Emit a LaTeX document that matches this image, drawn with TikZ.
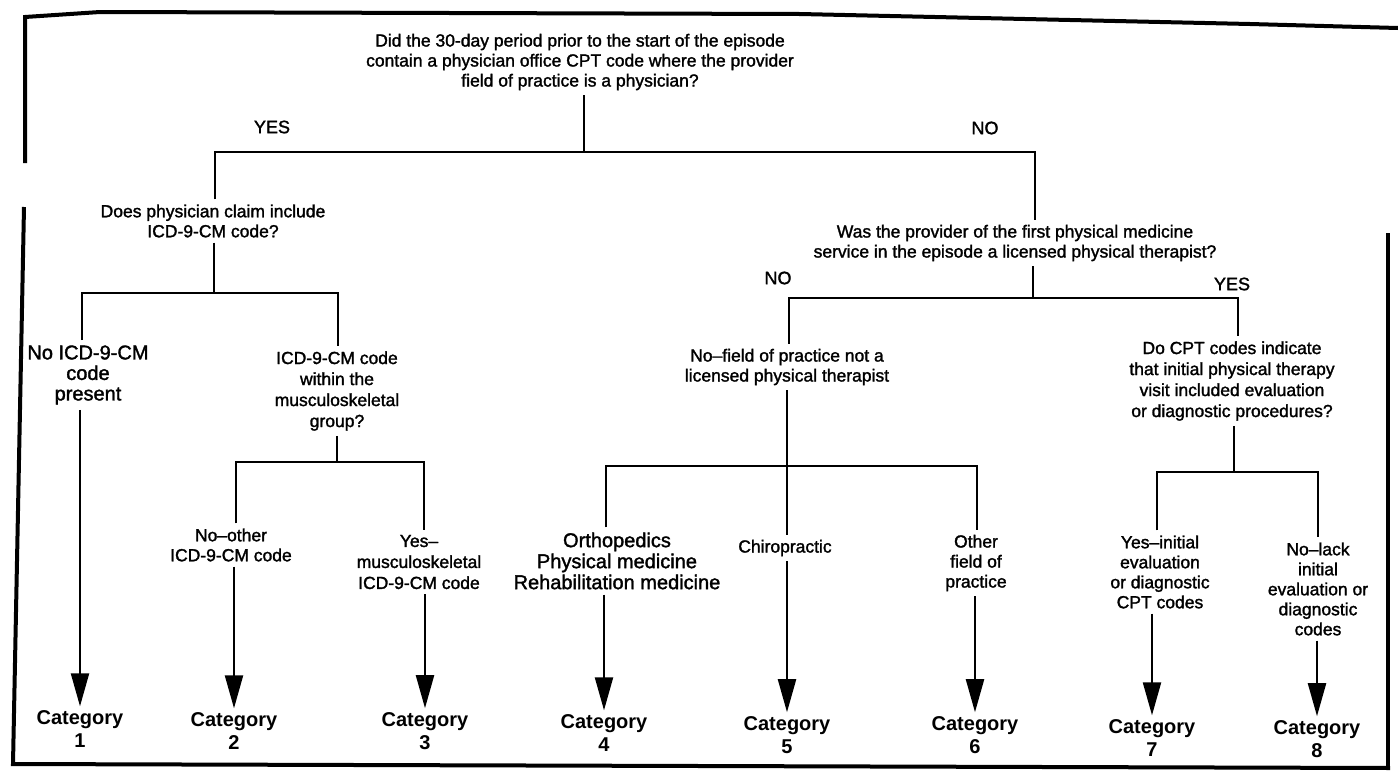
\documentclass[tikz,border=0pt]{standalone}
\usepackage{fontspec}
\setmainfont{Liberation Sans}
\newfontfamily\scanfont{Liberation Sans}[FakeBold=1.6]
\usetikzlibrary{arrows.meta}
\begin{document}
\begin{tikzpicture}[x=1pt,y=-1pt,
  txt/.style={align=center, font=\scanfont\fontsize{17.5}{20}\selectfont, inner sep=5pt},
  txtw/.style={align=center, font=\scanfont\fontsize{17.5}{21}\selectfont, inner sep=5pt},
  big/.style={align=center, font=\scanfont\fontsize{20}{20.5}\selectfont, inner sep=5pt},
  bigw/.style={align=center, font=\scanfont\fontsize{20}{21}\selectfont, inner sep=5pt},
  cat/.style={align=center, font=\bfseries\fontsize{20}{23}\selectfont, inner sep=4pt},
  lbl/.style={font=\scanfont\fontsize{18}{20}\selectfont},
  ln/.style={line width=2.2pt},
  arr/.style={line width=2.2pt, -{Triangle[length=33pt,width=18pt]}},
  frameline/.style={line width=4pt}]
\useasboundingbox (0,0) rectangle (1398,774);
% frame
\draw[frameline] (25,163) -- (25,17) -- (100,12) -- (800,14) -- (1250,24) -- (1398,28);
\draw[frameline] (24,207) -- (13,764) -- (1390,768);
\draw[frameline] (1388,233) -- (1388,768);
% nodes
\node[txt] (q1) at (580,62) {Did the 30-day period prior to the start of the episode\\contain a physician office CPT code where the provider\\field of practice is a physician?};
\node[lbl] (yes1) at (272,127) {YES};
\node[lbl] (no1) at (985,128) {NO};
\node[txt] (q2) at (213,221) {Does physician claim include\\ICD-9-CM code?};
\node[txt] (q3) at (1015,243) {Was the provider of the first physical medicine\\service in the episode a licensed physical therapist?};
\node[lbl] (no2) at (778,278) {NO};
\node[lbl] (yes2) at (1232,284) {YES};
\node[big] (l1) at (88,375) {No ICD-9-CM\\code\\present};
\node[txtw] (q4) at (337,391) {ICD-9-CM code\\within the\\musculoskeletal\\group?};
\node[txt] (l2) at (231,545) {No–other\\ICD-9-CM code};
\node[txtw] (l3) at (419,562) {Yes–\\musculoskeletal\\ICD-9-CM code};
\node[txt] (q5) at (787,367) {No–field of practice not a\\licensed physical therapist};
\node[txtw] (q6) at (1232,381) {Do CPT codes indicate\\that initial physical therapy\\visit included evaluation\\or diagnostic procedures?};
\node[bigw] (l4) at (617,561) {Orthopedics\\Physical medicine\\Rehabilitation medicine};
\node[txt] (l5) at (785,548) {Chiropractic};
\node[txt] (l6) at (976,563) {Other\\field of\\practice};
\node[txt] (l7) at (1160,572) {Yes–initial\\evaluation\\or diagnostic\\CPT codes};
\node[txt] (l8) at (1318,589) {No–lack\\initial\\evaluation or\\diagnostic\\codes};
\node[cat] (c1) at (80,729) {Category\\1};
\node[cat] (c2) at (234,731) {Category\\2};
\node[cat] (c3) at (425,731) {Category\\3};
\node[cat] (c4) at (604,733) {Category\\4};
\node[cat] (c5) at (787,735) {Category\\5};
\node[cat] (c6) at (975,735) {Category\\6};
\node[cat] (c7) at (1152,738) {Category\\7};
\node[cat] (c8) at (1317,739) {Category\\8};
% junctions
\coordinate (b1) at (584,152); \coordinate (b1L) at (215,152); \coordinate (b1R) at (1035,152);
\coordinate (b2) at (214,293); \coordinate (b2L) at (82,293); \coordinate (b2R) at (338,293);
\coordinate (b3) at (337,462); \coordinate (b3L) at (236,462); \coordinate (b3R) at (424,462);
\coordinate (b4) at (1033,298); \coordinate (b4L) at (789,298); \coordinate (b4R) at (1238,298);
\coordinate (b5) at (787,466); \coordinate (b5L) at (606,466); \coordinate (b5R) at (977,466);
\coordinate (b6) at (1234,472); \coordinate (b6L) at (1157,472); \coordinate (b6R) at (1318,472);
% connectors
\draw[ln] (q1.south -| b1) -- (b1);
\draw[ln] (q2.north -| b1L) -- (b1L) -- (b1R) -- (q3.north -| b1R);
\draw[ln] (q2.south -| b2) -- (b2);
\draw[ln] (l1.north -| b2L) -- (b2L) -- (b2R) -- (q4.north -| b2R);
\draw[ln] (q4.south -| b3) -- (b3);
\draw[ln] (l2.north -| b3L) -- (b3L) -- (b3R) -- (l3.north -| b3R);
\draw[ln] (q3.south -| b4) -- (b4);
\draw[ln] (q5.north -| b4L) -- (b4L) -- (b4R) -- (q6.north -| b4R);
\draw[ln] (q5.south -| b5) -- (l5.north -| b5);
\draw[ln] (l4.north -| b5L) -- (b5L) -- (b5R) -- (l6.north -| b5R);
\draw[ln] (q6.south -| b6) -- (b6);
\draw[ln] (l7.north -| b6L) -- (b6L) -- (b6R) -- (l8.north -| b6R);
% arrows
\draw[arr] (l1.south -| c1.north) -- (c1.north);
\draw[arr] (l2.south -| c2.north) -- (c2.north);
\draw[arr] (l3.south -| c3.north) -- (c3.north);
\draw[arr] (l4.south -| c4.north) -- (c4.north);
\draw[arr] (l5.south -| c5.north) -- (c5.north);
\draw[arr] (l6.south -| c6.north) -- (c6.north);
\draw[arr] (l7.south -| c7.north) -- (c7.north);
\draw[arr] (l8.south -| c8.north) -- (c8.north);
\end{tikzpicture}
\end{document}
